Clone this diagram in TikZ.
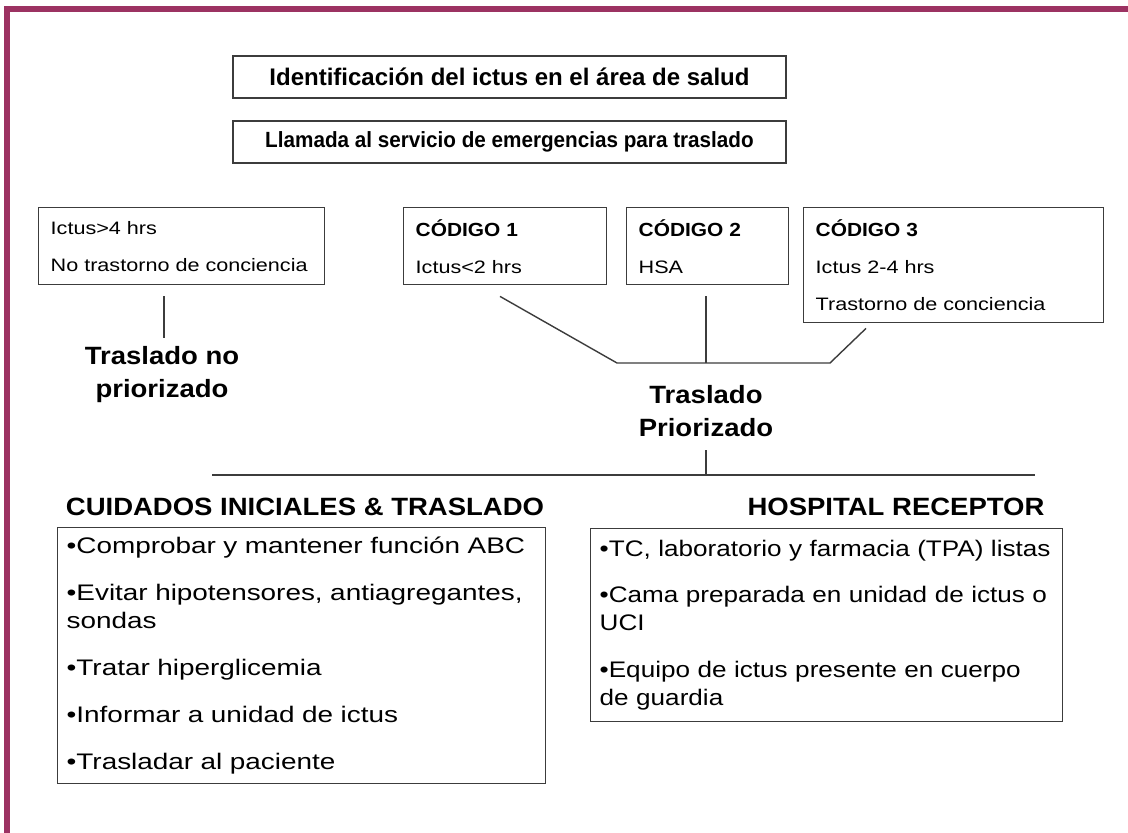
\documentclass[tikz,border=0pt]{standalone}
\usepackage{fontspec}
\setmainfont{Liberation Sans}
\newfontfamily\txtfont[FakeStretch=1.2]{Liberation Sans}
\newfontfamily\lstfont[FakeStretch=1.16]{Liberation Sans}
\newfontfamily\anchofont[FakeStretch=1.24]{Liberation Sans}
\newfontfamily\hdfont[FakeStretch=1.1]{Liberation Sans}
\newfontfamily\cdfont[FakeStretch=1.1]{Liberation Sans}
\newfontfamily\llfont[FakeStretch=0.94]{Liberation Sans}
\usetikzlibrary{calc}
\definecolor{marco}{RGB}{156,50,98}
\definecolor{linea}{RGB}{60,60,60}

\begin{document}
\begin{tikzpicture}[x=1pt,y=-1pt,
	caja/.style={draw=linea, line width=1.4pt, inner ysep=0pt},
	chica/.style={caja, anchor=north west, align=left, inner xsep=12pt, font=\txtfont\fontsize{18}{37}\selectfont},
	lista/.style={caja, anchor=north west, align=left, inner xsep=9pt, font=\lstfont\fontsize{22.5}{28}\selectfont},
	titulo/.style={font=\hdfont\bfseries\fontsize{25}{33}\selectfont, align=center, inner sep=0pt},
	conector/.style={draw=linea, line width=1.4pt}]
	\fill[white] (0,0) rectangle (1128,833);
	\useasboundingbox (0,0) rectangle (1128,833);
	% marco
	\fill[marco] (4,6) rectangle (1128,12);
	\fill[marco] (4,6) rectangle (10,833);
	% cabecera
	\node[caja, minimum width=553, minimum height=42, font=\bfseries\fontsize{24}{28}\selectfont] (ident) at (509.5,77) {Identificación del ictus en el área de salud};
	\node[caja, minimum width=553, minimum height=42, font=\llfont\bfseries\fontsize{22}{26}\selectfont] (llamada) at (509.5,142) {Llamada al servicio de emergencias para traslado};
	% codigos
	\node[chica, text width=262, minimum height=77] (nopri) at (38,207) {Ictus>4 hrs\\No trastorno de conciencia};
	\node[chica, text width=179, minimum height=77] (cod1) at (403,207) {{\cdfont\bfseries\fontsize{19}{37}\selectfont CÓDIGO 1}\\Ictus<2 hrs};
	\node[chica, text width=138, minimum height=77] (cod2) at (626,207) {{\cdfont\bfseries\fontsize{19}{37}\selectfont CÓDIGO 2}\\HSA};
	\node[chica, text width=276, minimum height=115] (cod3) at (803,207) {{\cdfont\bfseries\fontsize{19}{37}\selectfont CÓDIGO 3}\\Ictus 2-4 hrs\\Trastorno de conciencia};
	\node[titulo] (trasno) at (162,375) {Traslado no\\priorizado};
	\node[titulo] (traspri) at (706,411.5) {Traslado\\Priorizado};
	\coordinate (nopri-pie) at (164,296);
	\coordinate (union-izq) at (617,363);
	\coordinate (union-centro) at (706,363);
	\coordinate (union-der) at (830,363);
	\coordinate (base-izq) at (212,475);
	\coordinate (base-der) at (1035,475);
	\draw[conector] (nopri-pie) -- ++(0,42);
	\draw[conector] ($(cod1.south west)+(97,11)$) -- (union-izq) -- (union-der) -- ($(cod3.south west)+(63,5)$);
	\draw[conector] ($(cod2.south west)+(80,11)$) -- (union-centro);
	\draw[conector] ($(traspri.south)+(0,13)$) -- (traspri.south |- base-izq);
	\draw[conector] (base-izq) -- (base-der);
	% atencion
	\node[titulo] (cuidtit) at (305,507) {CUIDADOS INICIALES \& TRASLADO};
	\node[titulo] (hosptit) at (896,507) {HOSPITAL RECEPTOR};
	\node[lista, text width=470, minimum height=256, font=\anchofont\fontsize{22.5}{28}\selectfont] (cuid) at (57,527) {•Comprobar y mantener función ABC\\[19pt]•Evitar hipotensores, antiagregantes,\\sondas\\[19pt]•Tratar hiperglicemia\\[19pt]•Informar a unidad de ictus\\[19pt]•Trasladar al paciente};
	\node[lista, text width=454, minimum height=193] (hosp) at (590,528) {•TC, laboratorio y farmacia (TPA) listas\\[18pt]•Cama preparada en unidad de ictus o\\UCI\\[19pt]•Equipo de ictus presente en cuerpo\\de guardia};
\end{tikzpicture}
\end{document}
